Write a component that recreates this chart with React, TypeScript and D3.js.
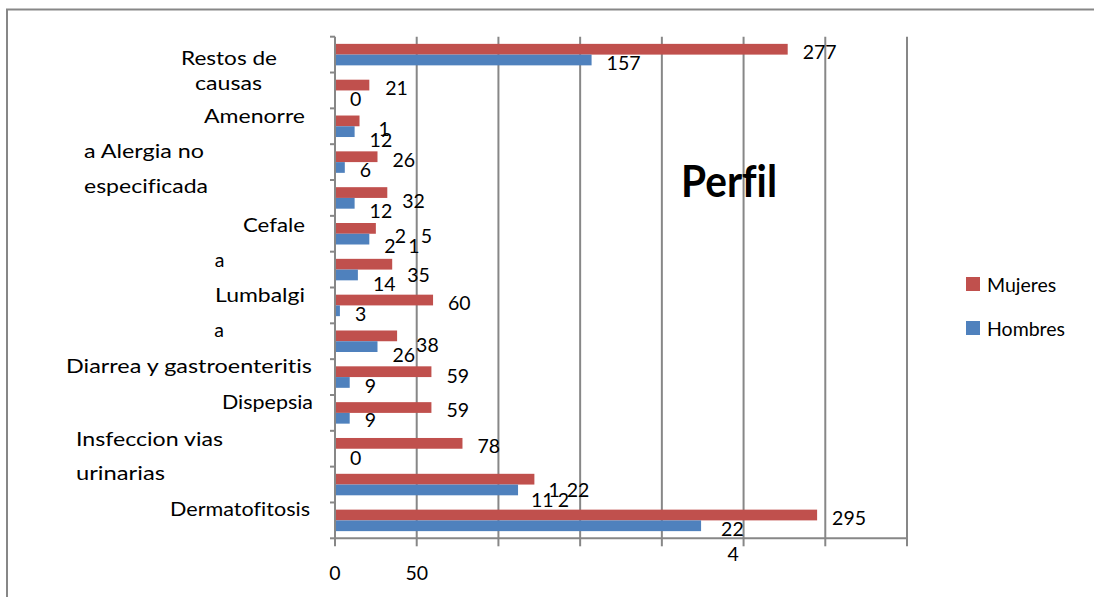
import React from "react";
import * as d3 from "d3";

// ---- data ----
const categories = ["Restos de causas", "F2", "F3", "F4", "F5", "F6", "F7", "F8", "F9", "F10", "F11", "F12", "F13", "Dermatofitosis"];
const series = ["Mujeres", "Hombres"];
const mujeres = [277, 21, 15, 26, 32, 25, 35, 60, 38, 59, 59, 78, 122, 295];
const hombres = [157, 0, 12, 6, 12, 21, 14, 3, 26, 9, 9, 0, 112, 224];
const mujeresLabels = ["277", "21", "1", "26", "32", "25", "35", "60", "38", "59", "59", "78", "122", "295"];
const hombresLabels = ["157", "0", "12", "6", "12", "21", "14", "3", "26", "9", "9", "0", "112", "22\n4"];
const axisLines = [
  "Restos de", "causas", "Amenorre", "a Alergia no", "especificada", "Cefale", "a",
  "Lumbalgi", "a", "Diarrea y gastroenteritis", "Dispepsia", "Insfeccion vias", "urinarias", "Dermatofitosis",
];
const xTickLabels = ["0", "50"];
const xTickValues = [0, 50];
const title = "Perfil";

// ---- layout (not data) ----
const colors: Record<string, string> = { Mujeres: "#C0504D", Hombres: "#4F81BD" };
const FONT = "Lato, 'Open Sans', sans-serif";
const FS = 19.5;
const mujDy = [2.7, 2.9, 8.5, 3.2, 8.9, 7.5, 11.2, 3.4, 9.6, 4.2, 2.4, 3.1, 10.5, 3.4];
const homDy = [3, 2.7, 8.3, 3, 7.2, 6.8, 9.5, 3.2, 8.4, 3.5, 2.2, 3.4, 10, 3.7];
const mujDx = [0, 1, 4, 0, 0, 4, 0, 0, 4, 0, 0, 0, -1, 0];
const homDx = [0, 0, 0, 0, 0, 0, 0, 0, 0, 0, 0, 0, -2, 5];
const mujSpacing = [0, 0, 0, 0, 0, 14.7, 0, 0, 0, 0, 0, 0, 0, 0];
const homSpacing = [0, 0, 0, 0, 0, 12.7, 0, 0, 0, 0, 0, 0, 0, 0];
const mujCharDx: Record<number, string> = { 12: "0 7 0" };
const homCharDx: Record<number, string> = { 12: "0 0 4" };
// axis label lines: [baseline y, anchor, anchor x, width]
const lineLayout: [number, string, number, number][] = [
  [65, "middle", 229, 96], [90, "middle", 228.5, 67], [123, "end", 305, 101], [157.5, "start", 84, 120],
  [193, "start", 84, 124], [231.7, "end", 305, 62], [266.7, "middle", 219.5, 0], [301.7, "end", 305, 90],
  [336.7, "middle", 219, 0], [373.3, "end", 312, 246], [409.3, "end", 313, 91], [445.7, "start", 76, 147],
  [480, "start", 76, 89], [516, "end", 310, 140],
];

const W = 1094, H = 597;
const noLig = { fontVariantLigatures: "none", fontFeatureSettings: "'liga' 0, 'clig' 0" } as React.CSSProperties;

export default function App() {
  const x = d3.scaleLinear().domain([0, 350]).range([335, 907]);
  const y = d3.scaleBand<string>().domain(categories).range([36.7, 538.3]).paddingInner(0.4).paddingOuter(0.2);
  const sub = d3.scaleBand<string>().domain(series).range([0, y.bandwidth()]);
  const [r0, r1] = y.range();
  const grid = x.ticks(7);
  const boundaries = d3.range(categories.length + 1).map((k) => r0 + k * y.step());
  const gray = "#878787";

  const digitHalf = FS * 0.36;

  return (
    <div style={{ position: "fixed", left: 0, top: 0 }}>
      <svg width={W} height={H} style={{ display: "block", background: "#fff", ...noLig }} fontFamily={FONT}>
        {/* outer border */}
        <path d={`M7,${H + 2} L7,9.5 L${W + 2},9.5`} fill="none" stroke={gray} strokeWidth={2} />
        {/* gridlines */}
        {grid.filter((t) => t > 0).map((t) => (
          <line key={t} x1={x(t)} x2={x(t)} y1={r0} y2={r1} stroke={gray} strokeWidth={2} />
        ))}
        {/* bars */}
        {categories.map((c, i) => (
          <g key={c}>
            <rect x={x(0)} y={y(c)! + sub("Mujeres")!} width={x(mujeres[i]) - x(0)} height={sub.bandwidth()} fill={colors.Mujeres} />
            <rect x={x(0)} y={y(c)! + sub("Hombres")!} width={x(hombres[i]) - x(0)} height={sub.bandwidth()} fill={colors.Hombres} />
          </g>
        ))}
        {/* axes */}
        <line x1={x(0)} x2={x(0)} y1={r0} y2={r1} stroke={gray} strokeWidth={2} />
        <line x1={x(0) - 1} x2={x(350) + 1} y1={r1} y2={r1} stroke={gray} strokeWidth={2} />
        {boundaries.map((b, k) => (
          <line key={k} x1={x(0) - 5} x2={x(0)} y1={b} y2={b} stroke={gray} strokeWidth={2} />
        ))}
        {grid.map((t) => (
          <line key={t} x1={x(t)} x2={x(t)} y1={r1} y2={r1 + 8} stroke={gray} strokeWidth={2} />
        ))}
        {xTickValues.map((t, k) => (
          <text key={t} x={x(t)} y={580} textAnchor="middle" fontSize={FS} fill="#000">{xTickLabels[k]}</text>
        ))}
        {/* category label lines */}
        {axisLines.map((s, k) => {
          const [by, anchor, ax, w] = lineLayout[k];
          return (
            <text key={k} x={ax} y={by} textAnchor={anchor} fontSize={FS} fill="#000" style={noLig}
              {...(w > 0 ? { textLength: w, lengthAdjust: "spacingAndGlyphs" } : {})}>{s}</text>
          );
        })}
        {/* value labels */}
        {categories.map((c, i) => {
          const my = y(c)! + sub("Mujeres")! + sub.bandwidth() / 2 + mujDy[i] + digitHalf;
          const hy = y(c)! + sub("Hombres")! + sub.bandwidth() / 2 + homDy[i] + digitHalf;
          const hl = hombresLabels[i].split("\n");
          return (
            <g key={c} fontSize={FS} fill="#000">
              <text x={x(mujeres[i]) + 15 + mujDx[i]} y={my} letterSpacing={mujSpacing[i]} dx={mujCharDx[i]}>{mujeresLabels[i]}</text>
              {hl.length === 1 ? (
                <text x={x(hombres[i]) + 15 + homDx[i]} y={hy} letterSpacing={homSpacing[i]} dx={homCharDx[i]}>{hl[0]}</text>
              ) : (
                <text x={x(hombres[i]) + 15 + homDx[i]} y={hy}>
                  <tspan>{hl[0]}</tspan>
                  <tspan x={x(hombres[i]) + 15 + homDx[i] + 6.5} dy={25}>{hl[1]}</tspan>
                </text>
              )}
            </g>
          );
        })}
        {/* title */}
        <text x={681} y={196.7} fontSize={44} fontWeight="bold" fill="#000" style={noLig} textLength={96} lengthAdjust="spacingAndGlyphs">{title}</text>
        {/* legend */}
        {series.map((s, k) => (
          <g key={s} transform={`translate(966,${277 + k * 44})`}>
            <rect x={0} y={0} width={14} height={14} fill={colors[s]} />
            <text x={21} y={14.5} fontSize={FS} fill="#000">{s}</text>
          </g>
        ))}
      </svg>
    </div>
  );
}
